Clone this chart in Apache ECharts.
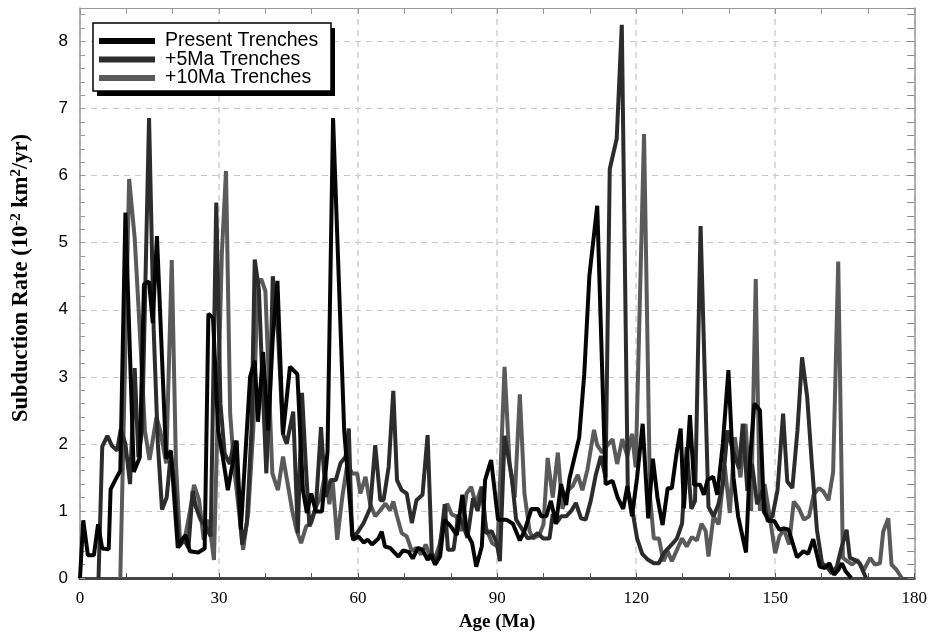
<!DOCTYPE html>
<html><head><meta charset="utf-8">
<script src="https://cdn.jsdelivr.net/npm/echarts@6/dist/echarts.min.js"></script>
<style>html,body{margin:0;padding:0;background:#fff}#c{width:930px;height:637px}</style>
</head><body><div id="c"></div>
<script>
const seriesNames = ['Present Trenches', '+5Ma Trenches', '+10Ma Trenches'];

const presentAge = [0,0.7,1.7,3.0,3.9,4.8,6.2,6.6,7.6,8.7,9.8,11.6,12.9,13.8,14.9,15.7,16.6,18.6,19.6,21.1,22.0,22.8,23.7,25.5,26.9,27.7,28.7,29.8,30.8,31.9,33.8,34.7,36.7,37.7,38.4,39.5,40.6,41.6,42.6,43.8,45.3,46.9,48.1,48.95,49.9,50.9,52.2,53.4,54.6,57.0,58.9,60.1,61.2,62.1,63.0,64.4,65.1,65.8,66.9,68.7,69.7,70.9,71.8,72.9,73.9,75.0,75.7,76.6,77.7,78.6,80.0,81.3,82.5,83.5,84.6,85.5,86.7,87.4,88.7,90.2,92.0,93.4,94.9,95.9,97.4,98.8,99.5,100.6,101.6,102.7,103.8,104.9,105.6,107.7,108.8,109.9,111.6,113.4,114.9,116.0,117.2,118.1,119.1,120.2,121.4,122.6,123.6,124.6,125.7,126.8,127.7,128.7,129.6,130.3,131.6,132.5,133.8,134.6,135.4,136.6,137.5,138.7,139.9,141.0,142.0,143.7,144.6,145.5,146.7,147.6,148.7,149.8,150.9,151.9,152.9,154.7,156.1,157.1,158.2,159.6,160.7,161.7,162.7,163.6,164.4,165.2,166.4];
const presentRate = [0,0.86,0.34,0.34,0.8,0.44,0.43,1.32,1.46,1.6,5.45,1.58,1.8,4.38,4.42,3.8,5.1,1.78,1.9,0.45,0.57,0.64,0.4,0.38,0.44,3.94,3.88,2.2,1.81,1.31,2.05,0.72,3.0,3.24,2.33,3.37,2.2,3.59,4.43,2.15,3.15,3.04,1.31,0.97,1.26,0.99,0.99,1.88,6.86,2.2,0.57,0.62,0.53,0.57,0.5,0.59,0.69,0.47,0.45,0.32,0.41,0.39,0.29,0.45,0.42,0.27,0.35,0.2,0.32,0.87,0.77,0.64,1.24,0.67,0.52,0.17,0.47,1.46,1.76,0.87,0.87,0.81,0.56,0.7,1.03,1.03,0.92,0.92,1.15,0.81,1.4,1.09,1.48,2.09,3.04,4.5,5.55,1.4,1.45,1.2,1.03,1.37,0.92,1.5,2.3,0.89,1.78,1.2,0.79,1.34,1.34,1.85,2.23,1.04,2.43,1.39,1.39,1.24,1.46,1.51,1.24,2.0,3.1,1.5,0.92,0.38,1.8,2.6,2.5,0.98,0.85,0.85,0.72,0.74,0.72,0.31,0.4,0.36,0.58,0.17,0.15,0.22,0.05,0.12,0.22,0.1,0];

const plus5Age = [4.0,4.8,5.9,6.9,8.0,8.8,9.8,10.8,11.8,12.6,13.4,14.9,15.9,16.8,17.7,18.7,19.6,20.5,21.4,22.5,23.4,24.3,25.0,26.0,27.1,28.2,29.4,30.3,31.2,32.3,33.3,34.2,35.0,36.0,37.0,37.7,38.6,39.3,40.2,41.0,41.6,42.7,43.8,44.6,46.0,47.0,47.9,48.7,49.5,50.9,52.0,53.0,54.1,55.2,56.2,57.3,58.0,58.7,59.8,61.2,62.6,63.7,64.8,65.5,66.6,67.6,68.4,69.4,70.5,71.6,72.6,73.9,75.0,75.9,76.9,77.6,78.7,79.4,80.6,81.6,82.6,83.6,84.8,85.8,86.8,87.6,88.8,89.9,90.6,91.6,93.1,94.1,95.2,96.6,97.7,98.8,99.9,101.3,102.0,102.7,103.8,104.9,106.0,107.0,108.1,109.1,110.2,111.3,112.4,113.4,114.3,115.8,116.9,118.2,119.2,120.2,121.3,122.4,123.8,124.9,125.9,126.6,127.7,128.8,129.9,130.9,131.9,132.7,133.9,135.6,136.7,137.7,138.7,139.7,140.9,142.2,143.0,144.0,145.0,146.1,147.2,148.4,149.4,150.5,151.7,152.6,153.7,154.8,155.8,156.9,157.9,159.0,160.1,161.1,162.2,163.3,164.3,165.4,166.1,167.2,168.2,169.6];
const plus5Rate = [0,1.96,2.12,1.97,1.9,2.22,2.0,1.4,3.13,1.8,2.2,6.86,3.7,2.0,1.02,1.2,1.86,1.3,0.47,0.57,0.45,1.3,1.06,0.87,0.77,0.62,5.6,2.6,1.86,1.7,2.05,1.21,0.5,0.82,2.2,4.75,4.3,3.05,1.56,2.8,4.5,3.69,2.15,2.0,2.48,0.67,2.76,1.71,0.77,1.06,2.25,1.21,1.46,1.46,1.71,1.81,2.23,0.62,0.67,0.82,1.04,1.98,1.16,1.16,1.66,2.79,1.46,1.31,1.26,0.82,1.16,1.24,2.13,0.37,0.22,0.42,1.1,0.42,0.42,0.94,0.8,0.6,1.19,1.0,1.36,0.67,0.7,0.53,0.25,2.12,1.54,0.87,0.75,0.59,0.61,0.67,0.59,0.59,0.95,0.81,0.92,0.92,1.0,1.12,0.89,0.87,1.15,1.54,1.82,1.5,6.1,6.55,8.25,1.3,1.0,0.59,0.36,0.28,0.22,0.22,0.36,0.42,0.5,0.59,0.81,1.95,1.03,1.15,5.25,1.06,0.92,1.09,1.4,2.2,1.9,1.63,2.3,1.3,1.7,1.1,1.3,0.84,0.92,1.31,2.45,1.44,1.34,2.2,3.29,2.7,1.71,0.72,0.22,0.17,0.07,0.17,0.45,0.72,0.3,0.27,0.22,0];

const plus10Age = [8.7,10.6,11.8,12.9,14.0,15.0,16.5,17.3,18.6,19.8,20.7,21.6,22.7,23.9,24.6,25.7,26.7,27.8,28.9,30.6,31.5,32.4,33.3,34.2,35.2,36.3,37.4,38.3,39.1,40.0,41.5,42.7,43.8,44.8,45.8,46.7,47.7,48.8,49.9,50.9,51.9,52.9,53.8,54.5,55.5,56.6,57.7,58.7,59.8,60.5,61.6,62.6,63.7,64.8,65.9,66.9,67.6,68.4,69.4,70.5,71.6,72.6,73.6,74.6,75.6,76.5,77.6,78.5,79.2,80.2,81.2,82.3,83.4,84.4,85.4,86.6,87.6,88.9,90.1,91.6,92.7,93.8,94.9,95.9,97.0,97.7,99.1,100.0,100.9,102.0,103.1,104.1,105.2,106.3,107.4,108.4,109.5,110.9,111.6,112.7,113.8,114.9,115.9,117.0,118.1,119.1,119.9,121.7,123.0,123.8,124.9,125.9,126.8,127.7,128.8,129.9,130.9,132.0,133.1,134.1,135.0,135.6,136.7,137.8,139.1,140.2,141.3,142.5,143.6,144.8,145.8,146.7,147.7,148.7,150.0,150.9,151.9,153.0,154.0,155.1,156.2,157.3,158.3,159.4,160.4,161.5,162.5,163.6,164.6,166.6,167.7,169.1,170.5,171.5,172.6,173.3,174.4,175.1,176.2,177.3];
const plus10Rate = [0,5.95,5.07,3.69,2.2,1.76,2.4,2.2,1.71,4.74,1.71,0.52,0.62,1.06,1.39,1.16,0.57,0.87,0.27,4.83,6.07,2.45,1.61,1.06,0.42,0.97,2.23,4.38,4.46,4.28,1.56,1.31,1.81,1.41,1.0,0.72,0.52,0.77,0.82,1.06,1.2,1.56,1.1,1.46,0.57,1.21,1.71,1.56,1.56,1.26,1.51,1.11,0.92,1.01,1.11,1.01,1.14,0.92,0.67,0.62,0.4,0.45,0.35,0.5,0.3,0.27,0.5,0.82,1.11,0.95,0.92,0.7,1.26,1.36,1.1,1.36,0.75,0.52,0.47,3.15,1.68,1.2,2.74,1.26,0.7,0.59,0.64,0.8,1.79,1.2,1.87,1.03,1.3,1.37,1.54,1.31,1.62,2.21,1.98,1.87,1.98,2.07,1.7,2.07,1.82,2.15,1.65,6.62,1.2,0.59,0.59,0.25,0.4,0.25,0.42,0.59,0.47,0.61,0.56,0.81,0.7,0.32,0.92,0.8,1.68,0.97,2.1,1.5,2.3,1.0,4.46,1.0,1.4,0.97,0.37,0.62,0.72,0.5,1.14,1.04,0.87,0.92,1.24,1.34,1.29,1.16,1.58,4.72,0.3,0.2,0.27,0.12,0.3,0.2,0.22,0.69,0.89,0.2,0.12,0];

const xTickValues = [0,30,60,90,120,150,180];
const yTickValues = [0,1,2,3,4,5,6,7,8];

function pairs(a, b) { return a.map((x, i) => [x, b[i]]); }

const chart = echarts.init(document.getElementById('c'), null, {renderer: 'canvas'});
const serif = "'Liberation Serif','Times New Roman',serif";
const sans = "'Liberation Sans',Arial,Helvetica,sans-serif";

function lineSeries(name, data, color, z) {
  return {
    name, type: 'line', data, color, z,
    showSymbol: false, symbol: 'none',
    lineStyle: {width: 4, color, join: 'bevel'},
    itemStyle: {color},
    animation: false
  };
}

chart.setOption({
  animation: false,
  backgroundColor: '#fff',
  grid: {left: 80, right: 9, top: 8, bottom: 56},
  graphic: [
    {type: 'rect', z: 5, shape: {x: 97, y: 28, width: 238, height: 68}, style: {fill: '#000'}},
    {type: 'rect', z: 5, shape: {x: 93, y: 23, width: 238, height: 68}, style: {fill: '#fff', stroke: '#000', lineWidth: 1.5}},
    {type: 'text', z: 5, x: 21, y: 278, rotation: Math.PI / 2,
      style: {
        text: 'Subduction Rate (10{sup|-2} km{sup|2}/yr)',
        align: 'center', verticalAlign: 'middle',
        fontFamily: serif, fontWeight: 'bold', fontSize: 22.5, fill: '#000',
        rich: {sup: {fontFamily: serif, fontWeight: 'bold', fontSize: 15, fill: '#000', padding: [0, 0, 10, 0]}}
      }}
  ],
  legend: {
    z: 6,
    orient: 'vertical', left: 93, top: 23,
    data: seriesNames,
    icon: 'rect', itemWidth: 56, itemHeight: 6, itemGap: -1.5,
    textStyle: {fontFamily: sans, fontSize: 19.5, color: '#000', padding: [0, 0, 0, 5]},
    padding: [8, 8, 6, 6],
    selectedMode: false
  },
  xAxis: [{
    type: 'value', min: 0, max: 180, interval: 30, position: 'bottom',
    name: 'Age (Ma)', nameLocation: 'middle', nameGap: 35,
    nameTextStyle: {fontFamily: serif, fontWeight: 'bold', fontSize: 19, color: '#000'},
    axisLine: {show: true, onZero: false, lineStyle: {color: '#444', width: 3}},
    axisTick: {show: true, inside: true, length: 5, lineStyle: {color: '#555', width: 1}},
    minorTick: {show: true, splitNumber: 3, length: 5, lineStyle: {color: '#555', width: 1}},
    axisLabel: {fontFamily: serif, fontSize: 17, color: '#000', margin: 12,
      formatter: v => xTickValues.includes(v) ? String(v) : ''},
    splitLine: {show: true, lineStyle: {color: '#cfcfcf', width: 1.5, type: [6, 5]}}
  }, {
    type: 'value', min: 0, max: 180, interval: 30, position: 'top',
    axisLine: {show: true, onZero: false, lineStyle: {color: '#999', width: 1}},
    axisTick: {show: true, inside: true, length: 6, lineStyle: {color: '#999', width: 1}},
    minorTick: {show: true, splitNumber: 3, length: 6, lineStyle: {color: '#999', width: 1}},
    axisLabel: {show: false}, splitLine: {show: false}
  }],
  yAxis: [{
    type: 'value', min: 0, max: 8.5, interval: 1, position: 'left',
    axisLine: {show: true, onZero: false, lineStyle: {color: '#999', width: 1.5}},
    axisTick: {show: true, inside: true, length: 5, lineStyle: {color: '#999', width: 1}},
    minorTick: {show: true, splitNumber: 5, length: 5, lineStyle: {color: '#999', width: 1}},
    axisLabel: {fontFamily: sans, fontSize: 17, color: '#000', margin: 12,
      formatter: v => yTickValues.includes(v) ? String(v) : ''},
    splitLine: {show: true, lineStyle: {color: '#c8c8c8', width: 1, type: [6, 5]}}
  }, {
    type: 'value', min: 0, max: 8.5, interval: 1, position: 'right',
    axisLine: {show: true, onZero: false, lineStyle: {color: '#999', width: 1.5}},
    axisTick: {show: true, inside: true, length: 7, lineStyle: {color: '#888', width: 1}},
    minorTick: {show: true, splitNumber: 5, length: 7, lineStyle: {color: '#888', width: 1}},
    axisLabel: {show: false}, splitLine: {show: false}
  }],
  series: [
    lineSeries(seriesNames[2], pairs(plus10Age, plus10Rate), '#5a5a5a', 2),
    lineSeries(seriesNames[1], pairs(plus5Age, plus5Rate), '#2c2c2c', 3),
    lineSeries(seriesNames[0], pairs(presentAge, presentRate), '#050505', 4)
  ]
});
</script>
</body></html>
